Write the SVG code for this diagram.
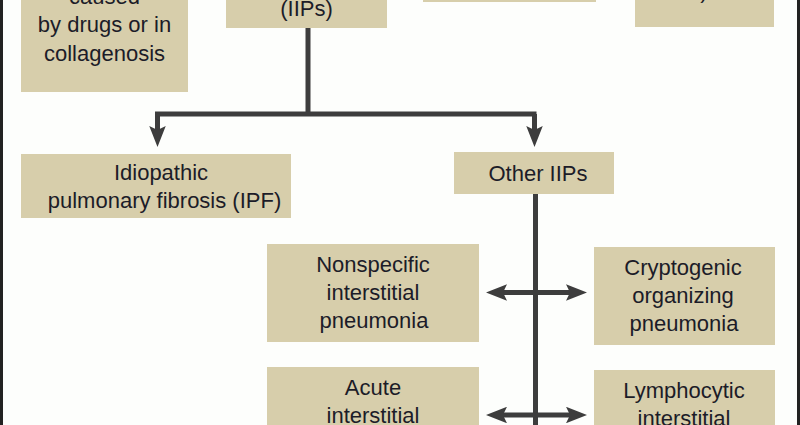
<svg xmlns="http://www.w3.org/2000/svg" width="800" height="425" viewBox="0 0 800 425">
<style>
.box{fill:#d7ceab}
.t{font-family:"Liberation Sans",Arial,sans-serif;font-size:22px;fill:#1c1c28;text-anchor:middle}
.c{fill:none;stroke:#3d3d3d;stroke-width:5}
</style>
<defs>
<marker id="ah" viewBox="0 0 21 16.5" refX="4" refY="8.25" markerWidth="21" markerHeight="16.5" markerUnits="userSpaceOnUse" orient="auto">
<path d="M0,0 L21,8.25 L0,16.5 L4,8.25 Z" fill="#3d3d3d"/>
</marker>
</defs>
<rect x="0" y="0" width="800" height="425" fill="#fdfefc"/>
<rect x="0" y="0" width="3" height="425" fill="#222"/>
<rect x="797" y="0" width="3" height="425" fill="#222"/>

<g id="connectors">
<path class="c" d="M308,28 V114"/>
<path class="c" d="M157.5,114 V130" marker-end="url(#ah)"/>
<path class="c" d="M155,114 H536.5"/>
<path class="c" d="M534.5,114 V130" marker-end="url(#ah)"/>
<path class="c" d="M535.5,194 V425"/>
<path class="c" d="M535.5,292.5 H503" marker-end="url(#ah)"/>
<path class="c" d="M535.5,292.5 H570" marker-end="url(#ah)"/>
<path class="c" d="M535.5,415 H503" marker-end="url(#ah)"/>
<path class="c" d="M535.5,415 H570" marker-end="url(#ah)"/>
</g>

<g id="node-drugs">
<rect class="box" x="21" y="-20" width="167" height="112"/>
<text class="t" x="104.5" y="4">caused</text>
<text class="t" x="104.5" y="32">by drugs or in</text>
<text class="t" x="104.5" y="61">collagenosis</text>
</g>
<g id="node-iips">
<rect class="box" x="226" y="-20" width="161" height="48"/>
<text class="t" x="306.5" y="16">(IIPs)</text>
</g>
<g id="node-topcenter">
<rect class="box" x="423" y="-20" width="173" height="22"/>
</g>
<g id="node-topright">
<rect class="box" x="635" y="-20" width="139" height="47"/>
<text class="t" x="704" y="-2">)</text>
</g>
<g id="node-ipf">
<rect class="box" x="21" y="154" width="270" height="64"/>
<text class="t" x="161" y="180">Idiopathic</text>
<text class="t" x="164.5" y="208">pulmonary fibrosis (IPF)</text>
</g>
<g id="node-other">
<rect class="box" x="454" y="152" width="160" height="42"/>
<text class="t" x="538" y="181">Other IIPs</text>
</g>
<g id="node-nsip">
<rect class="box" x="267" y="244" width="212" height="98"/>
<text class="t" x="373" y="272">Nonspecific</text>
<text class="t" x="373" y="300">interstitial</text>
<text class="t" x="374" y="328">pneumonia</text>
</g>
<g id="node-cop">
<rect class="box" x="594" y="247" width="181" height="98"/>
<text class="t" x="683" y="275">Cryptogenic</text>
<text class="t" x="683" y="303">organizing</text>
<text class="t" x="684" y="331">pneumonia</text>
</g>
<g id="node-aip">
<rect class="box" x="267" y="367" width="212" height="70"/>
<text class="t" x="373" y="395">Acute</text>
<text class="t" x="373" y="423">interstitial</text>
</g>
<g id="node-lip">
<rect class="box" x="594" y="370" width="181" height="70"/>
<text class="t" x="684" y="398">Lymphocytic</text>
<text class="t" x="684" y="426">interstitial</text>
</g>
</svg>
